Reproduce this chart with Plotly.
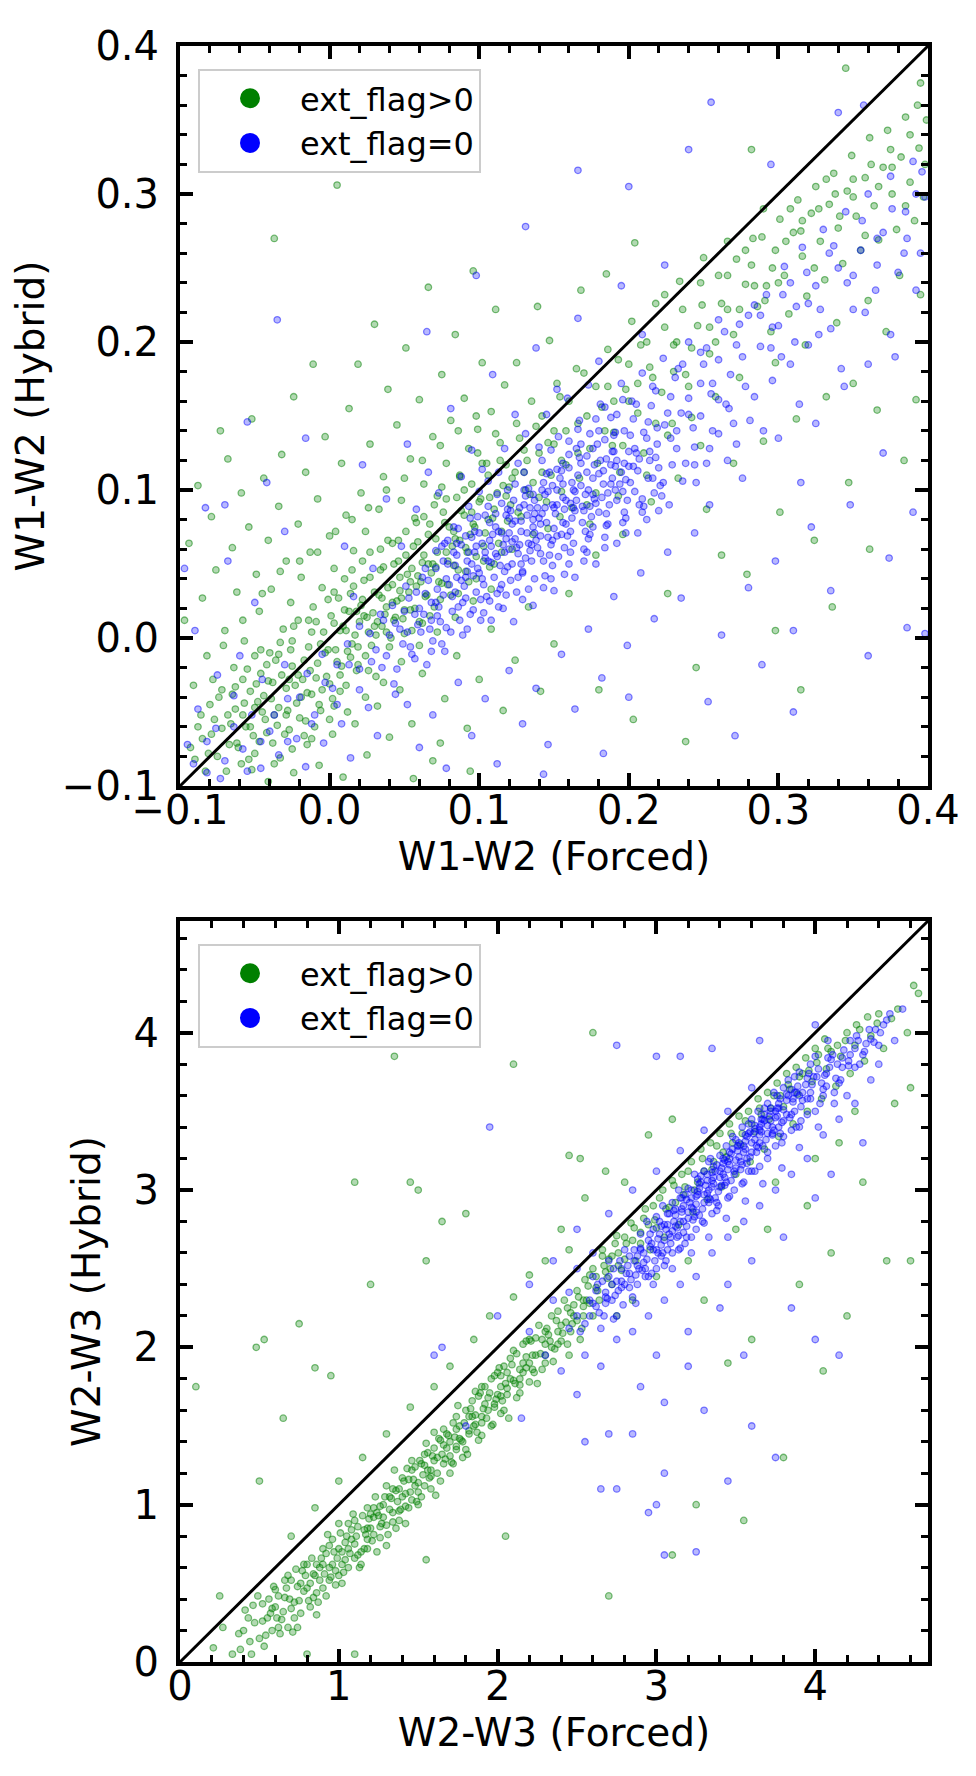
import plotly.graph_objects as go

# ---------------- DATA ----------------
# Top panel: W1-W2 (Forced) vs W1-W2 (Hybrid)
green_top = [
    (-0.072,-0.061),(-0.065,-0.038),(-0.061,-0.074),(-0.058,-0.052),(-0.055,-0.021),(-0.051,-0.066),(-0.048,-0.043),
    (-0.046,-0.008),(-0.043,-0.055),(-0.041,-0.029),(-0.038,-0.071),(-0.036,-0.015),(-0.034,-0.047),(-0.031,0.006),
    (-0.029,-0.034),(-0.027,-0.062),(-0.025,-0.019),(-0.022,-0.044),(-0.021,0.012),(-0.018,-0.028),(-0.016,-0.056),
    (-0.014,-0.006),(-0.012,-0.038),(-0.011,0.021),(-0.008,-0.017),(-0.006,-0.049),(-0.004,0.004),(-0.002,-0.026),
    (0.001,0.015),(0.002,-0.041),(0.004,-0.008),(0.006,0.027),(0.008,-0.019),(0.009,0.008),(0.011,-0.032),(0.013,0.018),
    (0.015,-0.004),(0.016,0.035),(0.018,-0.022),(0.020,0.011),(0.022,0.026),(0.024,-0.012),(0.026,0.004),(0.027,0.041),
    (0.029,0.017),(0.031,-0.026),(0.033,0.029),(0.035,0.008),(0.036,0.048),(0.038,0.021),(0.040,-0.006),(0.042,0.036),
    (0.044,0.014),(0.046,0.052),(0.048,0.027),(0.050,0.003),(0.052,0.043),(0.054,0.019),(0.056,0.062),(0.058,0.035),
    (0.060,0.011),(0.062,0.051),(0.064,0.028),(0.066,0.070),(0.068,0.044),(0.070,0.021),(0.072,0.058),(0.075,0.037),
    (0.077,0.078),(0.079,0.052),(0.081,0.029),(0.084,0.067),(0.086,0.046),(0.088,0.086),(0.091,0.061),(0.093,0.038),
    (0.096,0.077),(0.098,0.055),(0.101,0.094),(0.104,0.071),(0.107,0.048),(0.110,0.087),(0.113,0.064),(0.116,0.103),
    (0.119,0.079),
    (-0.062,-0.071),(-0.057,-0.044),(-0.053,-0.060),(-0.049,-0.031),(-0.045,-0.050),(-0.042,-0.018),(-0.039,-0.041),
    (-0.035,-0.059),(-0.032,-0.025),(-0.028,-0.049),(-0.026,-0.008),(-0.023,-0.032),(-0.020,-0.054),(-0.017,-0.015),
    (-0.015,-0.037),(-0.012,0.004),(-0.009,-0.027),(-0.007,-0.045),(-0.003,-0.010),(0.000,-0.031),(0.003,0.010),
    (0.005,-0.016),(0.007,-0.036),(0.010,0.019),(0.012,-0.009),(0.014,0.030),(0.017,0.002),(0.019,-0.018),(0.021,0.022),
    (0.023,0.039),(0.025,0.014),(0.028,-0.005),(0.030,0.031),(0.032,0.011),(0.034,0.046),(0.037,0.016),(0.039,0.034),
    (0.041,0.000),(0.043,0.050),(0.045,0.025),(0.047,0.041),(0.049,0.013),(0.051,0.056),(0.053,0.031),(0.055,0.047),
    (0.057,0.020),(0.059,0.065),(0.061,0.038),(0.063,0.056),(0.065,0.029),(0.067,0.077),(0.069,0.050),(0.071,0.067),
    (0.073,0.038),(0.076,0.085),(0.078,0.058),(0.080,0.075),(0.083,0.049),(0.085,0.095),(0.087,0.066),(0.090,0.083),
    (0.092,0.058),(0.095,0.104),(0.097,0.075),(0.100,0.092),(0.103,0.062),(0.106,0.110),(0.109,0.081),(0.112,0.098),
    (0.115,0.072),(0.118,0.117),(0.121,0.090),(0.124,0.112),(0.128,0.082),(0.132,0.120),(0.136,0.105),(0.140,0.125),
    (0.145,0.092),(0.150,0.140),(0.155,0.120),
    (-0.088,-0.060),(-0.083,-0.090),(-0.079,-0.065),(-0.074,-0.040),(-0.069,-0.090),(-0.066,-0.058),(-0.063,-0.033),
    (-0.059,-0.085),(-0.056,-0.060),(-0.053,-0.036),(-0.050,-0.012),(-0.047,-0.070),(-0.044,-0.039),(-0.040,-0.010),
    (-0.037,-0.052),(-0.033,-0.003),(-0.030,-0.065),(-0.027,-0.028),(-0.024,0.008),(-0.019,-0.040),(-0.014,0.012),
    (-0.010,-0.060),(-0.006,-0.004),(-0.001,0.026),(0.003,-0.046),(0.007,0.005),(0.010,0.040),(0.014,-0.013),
    (0.018,0.018),(0.022,0.052),(0.026,-0.022),(0.030,0.008),(0.034,0.060),(0.038,0.004),(0.042,0.024),(0.046,0.066),
    (0.050,0.019),(0.054,0.038),(0.058,0.078),(0.062,0.010),(0.066,0.050),(0.070,0.090),(0.074,0.026),(0.078,0.094),
    (0.082,0.062),(0.086,0.030),(0.090,0.100),(0.094,0.070),(0.098,0.040),(0.102,0.118),(0.106,0.080),(0.110,0.050),
    (0.114,0.120),(0.118,0.096),(0.122,0.060),(0.127,0.135),(0.131,0.100),(0.136,0.070),(0.142,0.150),(0.148,0.110),
    (0.154,0.082),(0.160,0.160),(0.166,0.125),(0.172,0.090),(0.178,0.170),(0.184,0.140),(0.190,0.160),(0.196,0.130),
    (0.200,0.185),(0.206,0.172),(0.212,0.200),(0.218,0.145),(0.224,0.210),(0.230,0.180),(0.236,0.222),(0.242,0.196),
    (0.248,0.240),(0.254,0.210),(0.260,0.245),(0.266,0.222),(0.272,0.256),(0.278,0.262),(0.284,0.238),(0.290,0.290),
    (0.296,0.250),(0.305,0.268),(0.315,0.275),(0.327,0.290),(0.338,0.300),(0.350,0.310),(0.362,0.320),(0.375,0.330),
    (0.388,0.340),(0.399,0.350),
    (-0.093,-0.074),(-0.086,-0.052),(-0.081,-0.078),(-0.077,-0.055),(-0.072,-0.035),(-0.067,-0.072),(-0.063,-0.048),
    (-0.058,-0.028),(-0.054,-0.082),(-0.050,-0.047),(-0.046,-0.024),(-0.042,-0.064),(-0.038,-0.030),(-0.034,-0.011),
    (-0.029,-0.052),(-0.025,-0.002),(-0.021,-0.025),(-0.017,-0.066),(-0.013,-0.022),(-0.009,0.011),(-0.005,-0.035),
    (-0.001,-0.008),(0.003,0.031),(0.007,-0.025),(0.011,0.005),(0.015,0.046),(0.019,-0.006),(0.023,0.015),(0.027,0.058),
    (0.031,0.002),(0.035,0.027),(0.039,0.066),(0.043,0.012),(0.047,0.032),(0.051,0.072),(0.055,0.005),(0.059,0.042),
    (0.063,0.082),(0.067,0.015),(0.071,0.048),(0.075,0.102),(0.079,0.036),(0.083,0.072),(0.087,0.110),(0.091,0.045),
    (0.095,0.085),(0.099,0.125),(0.103,0.052),(0.107,0.095),(0.111,0.138),(0.115,0.058),(0.120,0.102),(0.125,0.145),
    (0.130,0.112),(0.135,0.160),(0.140,0.095),(0.146,0.132),(0.152,0.172),(0.158,0.140),(0.165,0.182),(0.172,0.150),
    (0.179,0.118),(0.186,0.170),(0.193,0.188),(0.200,0.160),(0.208,0.198),(0.216,0.176),(0.224,0.232),(0.232,0.200),
    (0.240,0.170),(0.249,0.225),(0.258,0.200),(0.266,0.245),(0.274,0.222),(0.283,0.270),(0.291,0.228),(0.300,0.240),
    (0.308,0.290),(0.316,0.282),(0.324,0.250),(0.332,0.310),(0.341,0.285),(0.350,0.298),(0.358,0.272),(0.367,0.305),
    (0.376,0.318),(0.385,0.292),(0.393,0.360),(0.398,0.320),
    (-0.075,-0.080),(-0.068,-0.052),(-0.080,-0.045),(-0.085,-0.068),(-0.090,-0.082),(-0.064,-0.020),(-0.071,-0.005),
    (-0.078,-0.028),(-0.058,0.012),(-0.045,0.030),(-0.033,0.045),(-0.020,0.052),(-0.008,0.058),(0.004,0.072),
    (0.015,0.080),(0.026,0.088),(0.038,0.100),(0.050,0.108),(0.062,0.120),(0.074,0.130),(0.086,0.140),(0.098,0.150),
    (-0.050,-0.078),(-0.037,-0.085),(-0.025,-0.075),(-0.012,-0.068),(0.000,-0.055),(0.012,-0.050),(0.024,-0.040),
    (0.036,-0.030),(0.048,-0.016),(0.060,-0.005),(0.072,0.004),(0.084,0.014),(0.096,0.025),(0.108,0.033),
    (-0.097,0.012),(-0.094,0.064),(-0.091,-0.032),(-0.088,0.103),(-0.085,0.027),(-0.082,-0.012),(-0.079,0.082),
    (-0.076,0.046),(-0.073,0.140),(-0.070,0.005),(-0.068,0.121),(-0.065,0.061),(-0.062,0.031),(-0.059,0.098),
    (-0.057,-0.002),(-0.054,0.075),(-0.052,0.148),(-0.049,0.043),(-0.047,0.018),(-0.044,0.108),(-0.041,0.066),
    (-0.039,0.033),(-0.037,0.270),(-0.034,0.089),(-0.032,0.124),(-0.029,0.052),(-0.026,0.024),(-0.024,0.163),
    (-0.021,0.077),(-0.019,0.041),(-0.016,0.112),(-0.013,0.058),(-0.011,0.185),(-0.008,0.094),(-0.005,0.034),
    (-0.003,0.136),(0.000,0.069),(0.003,0.047),(0.005,0.306),(0.008,0.118),(0.011,0.083),(0.013,0.155),(0.016,0.059),
    (0.019,0.185),(0.021,0.098),(0.024,0.072),(0.027,0.131),(0.030,0.212),(0.033,0.087),(0.036,0.109),(0.039,0.168),
    (0.042,0.064),(0.045,0.144),(0.048,0.093),(0.051,0.196),(0.054,0.121),(0.057,0.081),(0.060,0.161),(0.063,0.104),
    (0.066,0.237),(0.069,0.136),(0.072,0.096),(0.075,0.178),(0.078,0.118),(0.081,0.147),(0.084,0.205),(0.087,0.109),
    (0.090,0.162),(0.093,0.128),(0.096,0.248),(0.099,0.141),(0.102,0.186),(0.105,0.118),(0.108,0.153),(0.111,0.222),
    (0.114,0.132),(0.117,0.171),
    (-0.052,-0.089),(-0.041,-0.097),(-0.033,-0.081),(-0.024,-0.091),(-0.015,-0.072),(-0.007,-0.086),(0.002,-0.065),
    (0.009,-0.094),(0.017,-0.058),(0.025,-0.079),(0.032,-0.046),(0.040,-0.067),(0.047,-0.035),(0.055,-0.058),
    (0.062,-0.024),(0.069,-0.083),(0.077,-0.041),(0.085,-0.012),(0.092,-0.061),(0.100,-0.028),(0.108,0.006),
    (0.116,-0.049),(0.124,-0.015),(0.133,0.021),(0.141,-0.036),(0.150,-0.004),(0.056,-0.095),(0.074,-0.071),(0.094,-0.090),
    (0.122,0.108),(0.126,0.085),(0.130,0.127),(0.134,0.097),(0.138,0.143),(0.142,0.112),(0.146,0.074),(0.150,0.131),
    (0.154,0.163),(0.158,0.117),(0.162,0.088),(0.166,0.145),(0.170,0.179),(0.174,0.128),(0.178,0.098),(0.182,0.156),
    (0.186,0.195),(0.190,0.139),(0.194,0.112),(0.198,0.168),(0.202,0.214),(0.206,0.152),(0.210,0.125),(0.214,0.183),
    (0.218,0.226),(0.222,0.166),(0.226,0.137),(0.230,0.198),(0.234,0.241),(0.238,0.178),(0.242,0.149),(0.246,0.211),
    (0.250,0.257),(0.254,0.192),(0.258,0.163),(0.262,0.226),(0.266,0.268),(0.270,0.205),(0.274,0.176),(0.278,0.239),
    (0.147,0.201),(0.168,0.235),(0.185,0.246),(0.204,0.267),(0.125,0.186),(0.139,0.224),(0.160,0.030),(0.178,0.056),
    (0.196,0.070),(0.215,0.092),(0.233,0.108),(0.252,0.087),(0.270,0.118),(0.226,0.030),(0.245,-0.020),(0.262,0.056),
    (0.180,-0.035),(0.203,-0.055),(0.238,-0.070),(0.212,0.110),(0.189,0.130),(0.167,0.108),(0.229,0.145),(0.248,0.130),
    (0.193,0.096),(0.155,0.099),(0.174,0.077),
    (0.282,0.252),(0.286,0.224),(0.289,0.271),(0.292,0.238),(0.295,0.207),(0.298,0.262),(0.301,0.283),(0.304,0.245),
    (0.307,0.219),(0.310,0.274),(0.313,0.296),(0.316,0.258),(0.319,0.231),(0.322,0.287),(0.325,0.305),(0.328,0.268),
    (0.331,0.242),(0.334,0.293),(0.337,0.314),(0.340,0.277),(0.343,0.253),(0.346,0.302),(0.349,0.326),(0.352,0.285),
    (0.355,0.262),(0.358,0.311),(0.361,0.338),(0.364,0.292),(0.367,0.269),(0.370,0.318),(0.373,0.343),(0.376,0.300),
    (0.379,0.276),(0.382,0.325),(0.385,0.352),(0.388,0.308),(0.391,0.282),(0.394,0.331),(0.397,0.298),(0.298,0.186),
    (0.318,0.198),(0.339,0.213),(0.360,0.228),(0.381,0.245),(0.395,0.232),(0.372,0.207),(0.350,0.172),(0.332,0.163),
    (0.312,0.148),(0.290,0.133),(0.366,0.154),(0.392,0.161),(0.384,0.120),(0.301,0.085),(0.324,0.066),(0.347,0.105),
    (0.361,0.060),(0.336,0.021),(0.279,0.043),(0.298,0.005),(0.315,-0.035),(0.345,0.385),(0.395,0.375),(0.282,0.330),
]

blue_top = [
    (0.040,0.002),(0.045,-0.021),(0.050,0.018),(0.054,-0.006),(0.058,0.031),(0.061,0.004),(0.065,-0.018),(0.068,0.024),
    (0.071,0.047),(0.074,0.011),(0.077,-0.009),(0.080,0.036),(0.083,0.058),(0.086,0.021),(0.089,0.002),(0.092,0.045),
    (0.095,0.068),(0.098,0.031),(0.101,0.012),(0.104,0.054),(0.107,0.078),(0.110,0.041),(0.113,0.021),(0.116,0.063),
    (0.119,0.087),(0.122,0.050),(0.125,0.031),(0.128,0.072),(0.131,0.096),(0.134,0.059),(0.137,0.040),(0.140,0.081),
    (0.143,0.105),(0.146,0.068),(0.149,0.049),(0.152,0.090),(0.155,0.113),(0.158,0.077),(0.161,0.058),(0.164,0.099),
    (0.167,0.122),(0.170,0.086),(0.173,0.067),(0.176,0.108),(0.179,0.131),(0.182,0.095),(0.185,0.076),(0.188,0.117),
    (0.191,0.139),(0.194,0.104),(0.197,0.085),(0.200,0.126),(0.203,0.148),(0.206,0.113),(0.209,0.094),(0.212,0.135),
    (0.215,0.157),(0.218,0.122),(0.221,0.103),(0.224,0.144),
    (0.072,0.033),(0.079,0.050),(0.085,0.041),(0.091,0.027),(0.097,0.058),(0.103,0.036),(0.108,0.062),(0.114,0.049),
    (0.120,0.071),(0.126,0.057),(0.132,0.083),(0.138,0.066),(0.144,0.088),(0.150,0.074),(0.156,0.095),(0.162,0.081),
    (0.168,0.103),(0.174,0.089),(0.180,0.111),(0.186,0.098),(0.192,0.120),(0.198,0.107),(0.204,0.128),(0.088,0.063),
    (0.094,0.081),(0.100,0.071),(0.106,0.089),(0.112,0.097),(0.118,0.083),(0.124,0.104),(0.130,0.112),(0.136,0.097),
    (0.142,0.120),(0.148,0.127),(0.154,0.108),(0.160,0.133),(0.166,0.141),(0.172,0.123),(0.178,0.148),(0.184,0.156),
    (0.190,0.137),(0.196,0.161),(0.094,0.016),(0.100,0.044),(0.107,0.025),(0.115,0.036),(0.123,0.011),(0.129,0.044),
    (0.136,0.022),(0.143,0.052),(0.150,0.032),(0.157,0.061),(0.164,0.041),(0.171,0.072),(0.178,0.050),(0.185,0.084),
    (0.192,0.064),(0.199,0.093),(0.206,0.071),(0.213,0.108),(0.220,0.086),
    (0.031,-0.008),(0.036,0.012),(0.043,-0.031),(0.047,0.006),(0.053,0.027),(0.057,-0.014),(0.063,0.016),(0.066,0.039),
    (0.069,-0.002),(0.073,0.021),(0.076,0.052),(0.078,0.007),(0.082,0.028),(0.084,0.049),(0.087,0.012),(0.090,0.035),
    (0.093,0.058),(0.096,0.019),(0.099,0.047),(0.102,0.064),(0.105,0.028),(0.108,0.051),(0.111,0.075),(0.114,0.033),
    (0.117,0.058),(0.120,0.081),(0.121,0.039),(0.124,0.067),(0.127,0.088),(0.129,0.045),(0.132,0.071),(0.135,0.052),
    (0.137,0.093),(0.139,0.061),(0.141,0.077),(0.144,0.042),(0.146,0.099),(0.148,0.063),(0.151,0.084),(0.153,0.055),
    (0.156,0.104),(0.159,0.069),(0.161,0.091),(0.163,0.064),(0.166,0.110),(0.169,0.078),(0.171,0.097),(0.174,0.070),
    (0.177,0.117),(0.180,0.085),(0.183,0.104),(0.186,0.077),(0.189,0.126),(0.192,0.093),(0.195,0.112),(0.198,0.081),
    (0.201,0.137),(0.204,0.099),(0.207,0.121),(0.210,0.089),(0.213,0.146),(0.216,0.108),(0.219,0.131),(0.222,0.096),
    (0.226,0.152),(0.229,0.117),(0.232,0.140),(0.236,0.106),(0.240,0.162),(0.244,0.129),(0.248,0.150),(0.252,0.118),
    (0.256,0.172),(0.260,0.138),(0.265,0.158),(0.270,0.145),
    (0.062,0.041),(0.067,0.006),(0.071,0.059),(0.075,-0.004),(0.079,0.066),(0.082,0.018),(0.086,0.074),(0.089,0.024),
    (0.093,0.089),(0.096,0.042),(0.100,0.099),(0.103,0.017),(0.106,0.106),(0.109,0.070),(0.113,0.112),(0.116,0.020),
    (0.119,0.100),(0.122,0.065),(0.126,0.118),(0.129,0.026),(0.133,0.101),(0.136,0.075),(0.140,0.129),(0.143,0.034),
    (0.147,0.112),(0.150,0.088),(0.153,0.136),(0.157,0.043),(0.160,0.124),(0.163,0.100),(0.167,0.147),(0.170,0.052),
    (0.174,0.138),(0.177,0.094),(0.181,0.158),(0.184,0.061),(0.188,0.149),(0.191,0.116),(0.195,0.172),(0.198,0.071),
    (0.202,0.160),(0.205,0.125),(0.209,0.179),(0.212,0.080),(0.216,0.170),(0.219,0.142),(0.223,0.189),(0.227,0.090),
    (0.231,0.176),(0.235,0.152),(0.240,0.200),(0.245,0.105),(0.250,0.185),(0.255,0.165),(0.260,0.215),(0.266,0.120),
    (0.272,0.198),(0.278,0.170),(0.284,0.225),(0.290,0.140),(0.296,0.210),(0.302,0.190),(0.308,0.240),(0.314,0.158),
    (0.320,0.226),(0.327,0.205),(0.334,0.260),(0.342,0.182),(0.350,0.245),(0.358,0.220),(0.366,0.270),(0.375,0.205),
    (0.384,0.260),(0.392,0.300),
    (0.051,0.035),(0.055,-0.011),(0.059,0.009),(0.064,0.047),(0.068,-0.009),(0.072,0.015),(0.077,0.064),(0.081,0.004),
    (0.085,0.056),(0.088,0.039),(0.092,0.006),(0.097,0.072),(0.101,0.026),(0.104,0.083),(0.108,0.012),(0.111,0.057),
    (0.115,0.091),(0.118,0.029),(0.122,0.077),(0.126,0.041),(0.130,0.100),(0.133,0.033),(0.137,0.084),(0.141,0.057),
    (0.145,0.111),(0.148,0.040),(0.152,0.069),(0.156,0.118),(0.160,0.050),(0.164,0.086),(0.168,0.131),(0.172,0.058),
    (0.176,0.097),(0.180,0.140),(0.184,0.068),(0.188,0.104),(0.192,0.151),(0.196,0.078),(0.200,0.116),(0.205,0.158),
    (0.209,0.085),(0.214,0.120),(0.218,0.167),(0.223,0.105),(0.228,0.135),(0.233,0.182),(0.238,0.118),(0.243,0.142),
    (0.248,0.193),(0.254,0.128),(0.260,0.188),(0.267,0.155),(0.274,0.212),(0.281,0.147),(0.288,0.218),(0.295,0.196),
    (0.303,0.232),(0.311,0.200),(0.319,0.247),(0.328,0.222),(0.337,0.265),(0.346,0.240),(0.356,0.282),(0.366,0.252),
    (0.376,0.290),(0.386,0.270),(0.396,0.315),
    (0.113,0.072),(0.121,0.086),(0.128,0.050),(0.135,0.063),(0.142,0.084),(0.149,0.103),(0.155,0.070),(0.162,0.105),
    (0.169,0.089),(0.176,0.075),(0.183,0.113),(0.190,0.126),(0.196,0.099),(0.203,0.116),(0.210,0.139),(0.217,0.098),
    (0.098,0.062),(0.091,0.041),(0.085,0.064),(0.078,0.040),(0.071,0.024),(0.064,0.030),(0.057,0.016),(0.049,-0.004),
    (0.042,0.022),(0.035,-0.020),(0.027,0.003),(0.020,-0.035),(0.013,-0.018),(0.005,-0.045),(-0.003,-0.030),
    (-0.012,-0.058),(-0.020,-0.040),(-0.028,-0.070),(-0.037,-0.052),(-0.046,-0.070),(-0.055,-0.090),(-0.064,-0.060),
    (-0.073,-0.095),(-0.082,-0.070),(-0.091,-0.085),
    (0.106,0.052),(0.111,0.084),(0.118,0.067),(0.124,0.079),(0.130,0.090),(0.137,0.071),(0.145,0.078),(0.152,0.114),
    (0.158,0.093),(0.165,0.128),(0.172,0.112),(0.178,0.091),(0.185,0.121),(0.191,0.100),(0.197,0.140),(0.134,0.088),
    (0.127,0.063),(0.119,0.048),(0.112,0.030),(0.102,0.040),(0.095,0.050),(0.142,0.100),(0.149,0.066),(0.161,0.072),
    (0.175,0.082),(0.187,0.090),(0.201,0.105),(0.207,0.090),(0.214,0.126),(0.220,0.115),
    (0.117,0.045),(0.125,0.061),(0.133,0.064),(0.141,0.069),(0.149,0.090),(0.157,0.087),(0.165,0.093),(0.173,0.100),
    (0.181,0.120),(0.189,0.108),(0.197,0.118),(0.104,0.058),(0.112,0.055),(0.120,0.060),(0.128,0.079),(0.136,0.080),
    (0.144,0.097),(0.152,0.100),(0.160,0.115),(0.168,0.118),(0.176,0.128),(0.184,0.134),(0.092,0.052),(0.084,0.031),
    (0.076,0.029),(0.068,0.012),(0.060,0.020),(0.052,0.004),(0.044,0.010),(0.156,0.078),(0.163,0.088),(0.170,0.060),
    (0.147,0.056),(0.139,0.088),(0.131,0.054),(0.123,0.093),(0.115,0.071),(0.107,0.066),(0.099,0.082),(0.091,0.069),
    (0.083,0.075),(0.075,0.062),
    (-0.095,-0.072),(-0.088,-0.048),(-0.082,-0.091),(-0.076,-0.061),(-0.070,-0.083),(-0.064,-0.039),(-0.058,-0.075),
    (-0.052,-0.052),(-0.046,-0.088),(-0.040,-0.063),(-0.034,-0.079),(-0.028,-0.041),(-0.022,-0.068),(-0.016,-0.087),
    (-0.010,-0.052),(-0.004,-0.071),(0.002,-0.034),(0.008,-0.058),(0.014,-0.081),(0.020,-0.021),(0.026,-0.047),
    (0.032,-0.066),(0.038,-0.012),(0.044,-0.038),(-0.015,-0.024),(-0.005,-0.011),(0.005,-0.018),(0.012,-0.004),
    (0.020,0.008),(0.028,-0.016),(0.034,0.016),(-0.030,-0.018),(-0.045,-0.028),(-0.060,-0.012),(-0.075,-0.025),
    (-0.090,0.005),(-0.068,0.052),(-0.083,0.088),(-0.055,0.146),(-0.042,0.105),(-0.030,0.072),(-0.016,0.135),
    (-0.050,0.024),(-0.097,0.047),(-0.035,0.215),(0.010,0.062),(0.022,0.117),(-0.070,0.090),
    (0.052,-0.045),(0.060,-0.074),(0.069,-0.052),(0.078,-0.088),(0.086,-0.030),(0.095,-0.066),(0.104,-0.041),
    (0.112,-0.085),(0.120,-0.022),(0.129,-0.058),(0.138,-0.034),(0.146,-0.072),(0.155,-0.011),(0.164,-0.048),
    (0.173,0.006),(0.182,-0.027),(0.190,0.028),(0.199,-0.005),(0.208,0.044),(0.217,0.013),(0.226,0.058),(0.235,0.027),
    (0.244,0.071),(0.253,-0.043),(0.262,0.002),(0.271,-0.066),(0.280,0.034),(0.289,-0.018),(0.298,0.052),(0.310,0.005),
    (0.322,0.075),(0.335,0.032),(0.348,0.090),(0.360,-0.012),(0.374,0.054),(0.386,0.007),(0.398,0.003),(0.200,-0.040),
    (0.183,-0.078),(0.143,-0.092),(0.310,-0.050),
    (0.228,0.163),(0.232,0.128),(0.236,0.185),(0.240,0.151),(0.244,0.117),(0.248,0.172),(0.252,0.196),(0.256,0.140),
    (0.260,0.161),(0.264,0.207),(0.268,0.178),(0.272,0.131),(0.276,0.190),(0.280,0.218),(0.284,0.163),(0.288,0.197),
    (0.292,0.232),(0.296,0.174),(0.300,0.211),(0.304,0.251),(0.308,0.185),(0.312,0.224),(0.316,0.264),(0.320,0.198),
    (0.325,0.238),(0.330,0.276),(0.335,0.209),(0.340,0.250),(0.345,0.288),(0.350,0.222),(0.355,0.262),(0.360,0.300),
    (0.365,0.235),(0.370,0.274),(0.375,0.312),(0.380,0.247),(0.385,0.288),(0.390,0.322),(0.395,0.260),(0.398,0.298),
    (0.344,0.170),(0.360,0.185),(0.378,0.190),(0.392,0.235),(0.325,0.145),(0.300,0.135),(0.276,0.108),(0.254,0.090),
    (0.315,0.105),(0.370,0.125),(0.390,0.085),(0.340,0.355),(0.357,0.360),(0.295,0.320),(0.255,0.362),(0.166,0.316),
    (0.200,0.305),(0.240,0.330),
    (0.038,0.094),(0.052,0.131),(0.066,0.112),(0.081,0.155),(0.095,0.127),(0.109,0.178),(0.124,0.151),(0.138,0.196),
    (0.152,0.168),(0.166,0.216),(0.180,0.187),(0.195,0.238),(0.209,0.205),(0.224,0.252),(0.065,0.207),(0.098,0.245),
    (0.131,0.278),(0.058,0.087),(0.073,0.098),(0.088,0.109),(0.102,0.114),(0.117,0.128),(0.131,0.138),(0.145,0.151),
    (0.159,0.162),(0.173,0.171),(0.029,0.047),(0.016,0.028),(0.048,0.062),
]

# Bottom panel: W2-W3 (Forced) vs W2-W3 (Hybrid)
green_bot = [
    (0.21,0.09),(0.27,0.22),(0.33,0.05),(0.37,0.18),(0.41,0.33),(0.44,0.13),(0.47,0.25),(0.52,0.37),(0.54,0.17),
    (0.57,0.31),(0.59,0.48),(0.61,0.28),(0.63,0.18),(0.67,0.47),(0.69,0.40),(0.71,0.19),(0.73,0.59),(0.75,0.39),
    (0.79,0.55),(0.81,0.39),(0.83,0.66),(0.85,0.55),(0.87,0.38),(0.89,0.66),(0.91,0.56),(0.93,0.81),(0.95,0.54),
    (0.97,0.70),(0.99,0.66),(1.01,0.82),(1.03,0.57),(1.05,0.80),(1.07,0.69),(1.09,0.94),(1.11,0.80),(1.13,0.60),
    (1.15,0.93),(1.17,0.81),(1.19,0.91),(1.21,0.77),(1.23,1.05),(1.25,0.93),(1.27,0.88),(1.29,1.05),(1.31,0.81),
    (1.33,1.04),(1.35,1.22),(1.37,1.02),(1.39,0.97),(1.41,1.15),(1.43,1.23),(1.45,1.08),(1.47,1.16),(1.49,1.02),
    (1.51,1.28),(1.53,1.19),(1.55,1.39),(1.57,1.17),(1.59,1.31),(1.61,1.06),(1.63,1.42),(1.65,1.32),(1.67,1.29),
    (1.69,1.44),(1.71,1.27),(1.73,1.43),(1.75,1.63),(1.77,1.41),(1.79,1.52),(1.81,1.32),(1.83,1.61),(1.85,1.50),
    (1.87,1.46),(1.89,1.71),(1.91,1.61),(1.93,1.55),(1.95,1.71),(1.97,1.51),(1.99,1.67),(2.01,1.87),(2.03,1.66),
    (2.05,1.77),(2.07,1.55),(2.09,1.89),(2.11,1.77),(2.14,1.71),(2.16,1.90),(2.18,1.87),(2.21,2.04),(2.23,1.84),
    (2.25,1.77),(2.28,2.05),(2.30,1.95),(2.33,2.04),(2.35,1.91),(2.38,2.23),(2.40,2.04),(2.43,2.16),(2.45,1.95),
    (2.48,2.27),(2.50,2.17),(2.53,2.12),(2.55,2.43),(2.58,2.28),
    (0.43,0.28),(0.49,0.42),(0.53,0.10),(0.58,0.34),(0.62,0.22),(0.66,0.52),(0.70,0.34),(0.74,0.22),(0.78,0.62),
    (0.82,0.50),(0.86,0.30),(0.90,0.62),(0.94,0.74),(0.98,0.58),(1.02,0.50),(1.06,0.72),(1.10,0.90),(1.14,0.62),
    (1.18,0.78),(1.22,0.98),(1.26,0.86),(1.30,0.74),(1.34,1.10),(1.38,0.90),(1.42,0.88),(1.46,1.28),(1.50,1.00),
    (1.54,1.32),(1.58,1.10),(1.62,1.30),(1.66,1.48),(1.70,1.20),(1.74,1.56),(1.78,1.30),(1.82,1.56),(1.86,1.72),
    (1.90,1.44),(1.94,1.68),(1.98,1.82),(2.02,1.58),(2.06,1.84),(2.10,1.98),(2.14,1.76),(2.18,2.04),(2.22,1.86),
    (2.26,2.14),(2.30,1.90),(2.34,2.20),(2.38,2.02),(2.42,2.30),(2.46,2.22),(2.50,2.36),(2.54,2.30),(2.58,2.46),
    (2.62,2.38),(2.66,2.58),(2.70,2.56),(2.74,2.66),(2.80,2.70),(2.86,2.76),(2.92,2.82),(2.98,2.90),(3.04,3.00),
    (3.10,3.06),(3.16,3.10),(3.22,3.18),(3.28,3.26),(3.34,3.30),(3.40,3.36),(3.46,3.42),(3.52,3.47),(3.58,3.50),
    (3.64,3.58),(3.70,3.62),(3.76,3.68),(3.82,3.74),(3.88,3.78),(3.94,3.84),(4.00,3.90),(4.06,3.96),
    (0.40,0.20),(0.46,0.36),(0.50,0.15),(0.55,0.28),(0.60,0.46),(0.65,0.32),(0.68,0.55),(0.72,0.28),(0.76,0.50),
    (0.80,0.62),(0.84,0.41),(0.88,0.52),(0.92,0.42),(0.96,0.78),(1.00,0.55),(1.04,0.65),(1.08,0.84),(1.12,0.68),
    (1.16,0.72),(1.20,0.85),(1.24,0.70),(1.28,0.92),(1.32,0.97),(1.36,0.85),(1.40,1.05),(1.44,0.98),(1.48,1.12),
    (1.52,1.05),(1.56,1.22),(1.60,1.28),(1.64,1.15),(1.68,1.36),(1.72,1.26),(1.76,1.42),(1.80,1.35),(1.84,1.56),
    (1.88,1.41),(1.92,1.64),(1.96,1.50),(2.00,1.70),(2.04,1.60),(2.08,1.80),(2.12,1.68),(2.16,1.84),(2.20,1.78),
    (2.24,1.95),(2.28,1.86),(2.32,2.08),(2.36,1.99),(2.40,2.14),(2.44,2.02),(2.48,2.20),(2.52,2.05),(2.56,2.30),
    (2.60,2.20),(2.64,2.30),(2.68,2.48),(2.72,2.40),(2.76,2.52),(0.90,0.72),(1.18,0.98),(1.46,1.22),(1.74,1.48),
    (2.02,1.82),(2.30,2.10),(1.00,0.88),(1.30,1.12),(1.60,1.46),(1.90,1.75),(2.20,2.05),
    (0.62,0.42),(0.70,0.52),(0.78,0.45),(0.86,0.62),(0.94,0.60),(1.02,0.70),(1.10,0.75),(1.18,0.85),(1.26,0.99),
    (1.34,0.95),(1.42,1.07),(1.50,1.14),(1.58,1.22),(1.66,1.38),(1.74,1.35),(1.82,1.45),(1.90,1.52),(1.98,1.62),
    (2.06,1.70),(2.14,1.80),(2.22,1.95),(2.30,2.02),(2.38,2.10),(2.46,2.10),(2.54,2.20),(1.06,0.88),(1.22,0.92),
    (1.38,1.10),(1.54,1.25),(1.70,1.40),(1.86,1.57),(2.02,1.75),(2.18,1.94),
    (0.52,0.26),(0.56,0.40),(0.58,0.20),(0.60,0.35),(0.64,0.27),(0.66,0.41),(0.68,0.22),(0.72,0.38),(0.74,0.48),
    (0.76,0.31),(0.77,0.58),(0.80,0.47),(0.82,0.35),(0.84,0.56),(0.86,0.44),(0.88,0.60),(0.90,0.47),(0.92,0.69),
    (0.94,0.52),(0.96,0.62),(0.98,0.49),(1.00,0.72),(1.02,0.62),(1.04,0.76),(1.06,0.60),(1.08,0.78),(1.10,0.66),
    (1.12,0.86),(1.14,0.70),(1.16,0.84),(1.18,0.72),(1.20,0.94),(1.22,0.81),(1.24,0.95),(1.26,0.79),(1.28,1.00),
    (1.30,0.87),(1.32,1.05),(1.34,0.89),(1.36,1.09),(1.38,0.96),(1.40,1.17),(1.42,0.99),(1.44,1.16),(1.46,1.03),
    (1.48,1.24),(1.50,1.08),(1.52,1.26),(1.54,1.12),(1.56,1.33),(1.58,1.18),(1.60,1.36),(1.62,1.20),(1.64,1.41),
    (1.66,1.26),(1.68,1.45),(1.70,1.31),(1.72,1.52),(1.74,1.37),(1.76,1.50),(1.78,1.40),(1.80,1.60),(1.82,1.47),
    (1.84,1.66),(1.86,1.51),(1.88,1.69),(1.90,1.56),(1.92,1.75),(1.94,1.60),(1.96,1.80),(1.98,1.64),(2.00,1.84),
    (2.02,1.69),(2.04,1.88),(2.06,1.74),(2.08,1.93),(2.10,1.79),(2.12,1.96),(2.14,1.86),(2.16,2.02),(2.20,1.90),
    (2.24,2.06),(2.27,1.96),(2.31,2.12),(2.34,2.00),(2.37,2.17),(2.41,2.09),(2.44,2.25),(2.47,2.15),(2.51,2.32),
    (2.54,2.26),(2.57,2.39),
    (2.62,2.45),(2.67,2.52),(2.71,2.50),(2.76,2.60),(2.80,2.56),(2.85,2.68),(2.90,2.66),(2.95,2.78),(3.00,2.76),
    (3.06,2.88),(3.12,2.92),(3.18,3.02),(3.24,3.00),(3.30,3.12),(3.36,3.18),(3.42,3.24),(3.48,3.30),(3.54,3.36),
    (3.60,3.42),(3.66,3.48),(3.72,3.52),(3.78,3.60),(3.84,3.64),(3.90,3.72),(3.96,3.76),(4.02,3.86),(4.08,3.90),
    (4.14,3.92),(4.20,4.00),(4.26,4.05),(4.33,4.10),(4.40,4.12),
    (2.60,2.50),(2.63,2.36),(2.66,2.62),(2.69,2.44),(2.72,2.58),(2.75,2.71),(2.78,2.49),(2.81,2.66),(2.84,2.79),
    (2.87,2.55),(2.90,2.73),(2.93,2.88),(2.96,2.62),(2.99,2.81),(3.02,2.95),(3.05,2.70),(3.08,2.89),(3.11,3.03),
    (3.14,2.78),(3.17,2.97),(3.20,3.12),(3.23,2.86),(3.26,3.05),(3.29,3.20),(3.32,2.94),(3.35,3.13),(3.38,3.28),
    (3.41,3.02),(3.44,3.21),(3.47,3.36),(3.50,3.10),(3.53,3.29),(3.56,3.44),(3.59,3.18),(3.62,3.37),(3.65,3.52),
    (3.68,3.26),(3.71,3.45),(3.74,3.60),(3.77,3.34),(3.80,3.53),(3.83,3.67),(3.86,3.42),(3.89,3.61),(3.92,3.74),
    (3.95,3.50),(3.98,3.69),(4.01,3.81),(4.04,3.58),(4.07,3.77),(4.10,3.88),(4.13,3.66),(4.16,3.85),(4.19,3.95),
    (4.22,3.74),(4.25,3.92),(4.28,4.02),(4.31,3.82),(4.35,3.98),(4.39,4.06),(4.43,3.90),(4.48,4.09),(4.52,4.15),
    (4.58,4.00),(4.62,4.30),
    (2.45,2.62),(2.55,2.95),(2.68,3.12),(2.80,3.05),(2.95,3.35),(3.10,3.45),(2.40,2.75),(2.30,2.55),(2.20,2.46),
    (2.10,2.32),(1.95,2.20),(1.85,2.05),(1.70,1.88),(1.60,1.75),(1.45,1.62),(1.30,1.45),(1.15,1.30),(1.00,1.15),
    (0.85,0.98),(0.70,0.80),
    (0.10,1.75),(0.25,0.42),(0.50,1.15),(0.48,2.00),(0.53,2.05),(0.65,1.55),(0.85,1.87),(0.95,1.82),(0.75,2.15),
    (1.10,3.05),(1.45,3.05),(1.50,3.00),(1.65,2.80),(1.80,2.85),(1.55,2.55),(1.20,2.40),(2.10,3.80),(1.35,3.85),
    (2.60,4.00),(2.45,3.22),(2.52,3.20),(3.25,1.00),(3.45,1.90),(3.80,1.30),(3.55,0.90),(4.05,1.85),(4.20,2.20),
    (4.45,2.55),(4.60,2.55),(3.90,2.40),(4.10,2.60),(3.60,2.05),(3.30,2.30),(3.95,2.90),(4.30,3.05),(4.15,3.30),
    (3.70,2.75),(2.70,0.42),(3.10,0.68),(2.05,0.80),(1.10,0.05),(0.80,0.05),(0.45,0.05),(0.38,0.08),(1.55,0.65),
    (3.75,3.05),(4.25,3.50),(4.50,3.55),(4.65,4.25),(4.60,3.65),(2.85,2.30),(3.00,2.45),(3.20,2.55),(2.75,2.20),
    (3.50,2.75),(4.00,3.20),
]

blue_bot = [
    (2.45,2.12),(2.50,2.20),(2.55,2.15),(2.60,2.28),(2.64,2.22),(2.68,2.35),(2.72,2.30),(2.75,2.42),(2.78,2.38),
    (2.81,2.47),(2.84,2.43),(2.86,2.55),(2.89,2.50),(2.92,2.60),(2.94,2.56),(2.97,2.66),(3.00,2.62),(3.02,2.72),
    (3.05,2.68),(3.07,2.78),(3.10,2.74),(3.12,2.84),(3.15,2.80),(3.17,2.90),(3.20,2.86),(3.22,2.95),(3.25,2.91),
    (3.27,3.01),(3.30,2.97),(3.32,3.06),(3.35,3.02),(3.37,3.12),(3.40,3.08),(3.42,3.17),(3.45,3.13),(3.47,3.23),
    (3.50,3.19),(3.52,3.28),(3.55,3.24),(3.57,3.34),(3.60,3.30),(3.62,3.39),(3.65,3.35),(3.67,3.45),(3.70,3.41),
    (3.72,3.50),(3.75,3.46),(3.77,3.55),(3.80,3.51),(3.83,3.60),(3.86,3.56),(3.89,3.66),(3.92,3.62),(3.95,3.71),
    (3.98,3.67),(4.02,3.77),(4.06,3.73),(4.10,3.83),(4.14,3.80),(4.18,3.89),(4.22,3.86),(4.27,3.95),(4.32,3.93),
    (4.38,4.02),(4.45,4.08),
    (2.62,2.26),(2.66,2.42),(2.69,2.31),(2.73,2.50),(2.76,2.36),(2.80,2.40),(2.83,2.58),(2.87,2.46),(2.90,2.62),
    (2.93,2.45),(2.96,2.72),(3.00,2.50),(3.03,2.65),(3.07,2.85),(3.10,2.60),(3.13,2.76),(3.16,2.95),(3.19,2.70),
    (3.23,2.88),(3.26,3.07),(3.29,2.80),(3.33,3.00),(3.36,3.15),(3.39,2.90),(3.43,3.08),(3.46,3.24),(3.49,3.00),
    (3.53,3.18),(3.56,3.35),(3.60,3.12),(3.63,3.28),(3.66,3.45),(3.70,3.24),(3.73,3.36),(3.77,3.52),(3.80,3.34),
    (3.84,3.46),(3.87,3.62),(3.91,3.44),(3.95,3.58),(3.99,3.72),(4.03,3.55),(4.07,3.66),(4.11,3.86),(4.16,3.70),
    (4.21,3.82),(4.26,3.98),(4.31,3.88),(4.37,3.94),(4.43,4.05),
    (3.25,2.96),(3.35,3.06),(3.45,3.18),(3.55,3.28),(3.65,3.40),(3.75,3.50),(3.20,2.82),(3.30,2.92),(3.40,3.02),
    (3.50,3.14),(3.60,3.24),(3.70,3.36),(3.80,3.44),(3.08,2.72),(2.98,2.62),(2.88,2.52),(2.78,2.42),(2.68,2.32),
    (3.44,3.28),(3.54,3.40),(3.64,3.50),(3.74,3.62),(3.34,3.20),(3.24,3.10),(3.14,3.00),(3.04,2.90),(2.94,2.80),
    (3.87,3.72),(3.97,3.80),(4.07,3.74),
    (2.58,2.30),(2.63,2.40),(2.67,2.20),(2.70,2.45),(2.74,2.33),(2.77,2.55),(2.79,2.27),(2.83,2.47),(2.86,2.62),
    (2.88,2.40),(2.92,2.54),(2.95,2.68),(2.97,2.47),(3.01,2.60),(3.03,2.77),(3.06,2.55),(3.09,2.70),(3.11,2.87),
    (3.14,2.62),(3.17,2.80),(3.19,2.94),(3.22,2.70),(3.25,2.86),(3.27,3.04),(3.30,2.79),(3.33,2.95),(3.35,3.11),
    (3.38,2.87),(3.41,3.03),(3.43,3.19),(3.46,2.96),(3.49,3.12),(3.51,3.28),(3.54,3.04),(3.57,3.20),(3.59,3.37),
    (3.62,3.12),(3.65,3.30),(3.68,3.44),(3.70,3.20),(3.73,3.40),(3.76,3.60),(3.79,3.30),(3.82,3.48),(3.85,3.64),
    (3.88,3.40),(3.92,3.57),(3.96,3.74),(4.00,3.50),(4.04,3.68),(4.08,3.84),(4.12,3.62),(4.17,3.78),(4.22,3.95),
    (4.28,3.80),(4.34,4.02),(4.40,3.92),(4.47,4.12),
    (3.05,2.78),(3.16,2.88),(3.26,2.99),(3.36,3.04),(3.46,3.16),(3.56,3.26),(3.66,3.37),(3.76,3.47),(3.86,3.58),
    (3.12,2.77),(3.22,2.89),(3.32,2.98),(3.42,3.10),(3.52,3.21),(3.62,3.32),(3.72,3.44),(3.28,3.09),(3.48,3.34),
    (3.68,3.52),(3.18,2.66),(3.38,2.92),(3.58,3.12),(3.78,3.36),
    (2.82,2.52),(2.88,2.58),(2.91,2.49),(2.96,2.64),(2.99,2.55),(3.01,2.69),(3.04,2.60),(3.06,2.75),(3.09,2.66),
    (3.11,2.80),(3.14,2.71),(3.16,2.86),(3.19,2.77),(3.21,2.92),(3.24,2.83),(3.26,2.97),(3.29,2.88),(3.31,3.03),
    (3.34,2.94),(3.36,3.08),(3.39,2.99),(3.41,3.14),(3.44,3.05),(3.46,3.20),(3.49,3.10),(3.51,3.25),(3.54,3.16),
    (3.56,3.31),(3.59,3.21),(3.61,3.36),(3.64,3.27),(3.66,3.42),(3.69,3.32),(3.71,3.47),(3.74,3.38),(3.76,3.52),
    (3.79,3.43),(3.82,3.57),(3.85,3.48),(3.88,3.62),(3.91,3.53),(3.94,3.67),(3.97,3.58),(4.01,3.72),(4.05,3.64),
    (4.09,3.78),(4.13,3.71),(4.17,3.84),(4.21,3.79),(4.25,3.90),(4.30,3.86),(4.35,3.96),(4.41,4.00),
    (3.02,2.80),(3.12,2.88),(3.22,3.00),(3.32,3.10),(3.42,3.20),(3.52,3.30),(3.62,3.41),(3.72,3.52),(3.82,3.61),
    (3.07,2.62),(3.17,2.73),(3.27,2.84),(3.37,2.95),(3.47,3.06),(3.57,3.17),(3.67,3.28),(3.77,3.40),(3.87,3.50),
    (3.97,3.62),(2.72,2.40),(2.78,2.50),(2.68,2.28),(2.58,2.20),(2.52,2.10),(2.62,2.36),(2.73,2.18),(2.87,2.28),
    (2.98,2.40),(3.10,2.50),(3.22,2.60),(3.33,2.70),(3.44,2.82),(3.56,2.93),(3.67,3.04),(3.79,3.14),(3.90,3.27),
    (4.02,3.40),(4.12,3.55),(2.90,2.63),(3.15,2.95),(3.40,3.12),(3.65,3.38),(3.90,3.60),(3.33,3.18),(3.58,3.42),
    (3.83,3.70),(4.08,3.95),
    (2.60,2.45),(2.70,2.55),(2.80,2.62),(2.90,2.72),(3.00,2.83),(3.10,2.92),(3.20,3.01),(3.30,3.12),(3.40,3.22),
    (3.50,3.32),(3.60,3.45),(3.70,3.55),(3.80,3.65),(3.90,3.75),(4.00,3.85),(2.65,2.12),(2.75,2.20),(2.85,2.32),
    (2.95,2.45),(3.05,2.52),(3.15,2.63),(3.25,2.75),(3.35,2.85),(3.45,2.95),(3.55,3.05),(3.65,3.15),(3.75,3.28),
    (3.85,3.38),(3.95,3.48),(4.05,3.60),(4.15,3.68),(4.25,3.78),(2.98,2.75),(3.08,2.85),(3.18,2.97),(3.28,3.05),
    (3.38,3.16),(3.48,3.26),(3.58,3.36),(3.68,3.48),(3.78,3.58),(3.13,2.70),(3.23,2.81),(3.33,2.92),(3.43,3.03),
    (3.53,3.13),(3.63,3.24),(3.73,3.35),(3.03,2.58),(2.93,2.50),(2.83,2.38),
    (2.30,1.95),(2.20,2.10),(2.35,2.30),(2.50,2.50),(2.40,1.85),(2.55,1.95),(2.65,1.88),(2.75,2.05),(2.85,2.10),
    (2.95,2.20),(3.05,2.30),(3.15,2.40),(3.25,2.45),(3.35,2.60),(3.45,2.70),(3.55,2.80),(3.65,2.90),(3.75,3.00),
    (3.85,3.10),(3.95,3.20),(4.05,3.35),(4.15,3.45),(4.25,3.55),(4.35,3.70),(2.90,1.75),(3.00,1.95),(3.20,2.10),
    (3.40,2.25),(3.60,2.55),(3.80,2.70),(4.00,2.95),(4.10,3.10),(4.30,3.30),(4.40,3.80),(4.50,3.95),(4.55,4.15),
    (2.50,2.75),(2.70,2.85),(2.85,3.00),(3.00,3.12),(3.15,3.25),(3.30,3.38),(3.45,3.50),(3.60,3.65),(3.15,3.85),
    (3.35,3.90),(3.00,3.85),(2.75,3.92),(3.65,3.95),(4.00,4.05),(2.00,2.20),(1.95,3.40),(1.65,2.00),(1.60,1.95),
    (1.80,1.50),(2.15,1.55),(2.50,1.70),(2.70,1.45),(3.05,1.65),(3.30,1.60),(2.55,1.40),(2.85,1.45),(3.00,1.00),
    (2.95,0.95),(3.05,1.20),(2.65,1.10),(2.75,1.10),(3.45,1.15),(3.75,1.30),(3.60,1.50),(3.55,1.95),(4.00,2.05),
    (4.15,1.95),(3.25,0.70),(3.05,0.68),(2.20,2.40),(2.35,2.55),(3.85,2.25),(3.45,2.40),(3.20,1.88),(2.45,2.35),
    (2.60,2.60),(3.90,3.40),(4.20,3.60),
]

range_top = [-0.1, 0.4]
range_bot = [0.0, 4.71]
legend_labels = ["ext_flag>0", "ext_flag=0"]
x_titles = ["W1-W2 (Forced)", "W2-W3 (Forced)"]
y_titles = ["W1-W2 (Hybrid)", "W2-W3 (Hybrid)"]

# ---------------- STYLE ----------------
FONT = "DejaVu Sans"
W, H = 976, 1776
GREEN_FILL, GREEN_LINE = "rgba(0,128,0,0.30)", "rgba(0,128,0,0.50)"
BLUE_FILL, BLUE_LINE = "rgba(0,0,255,0.28)", "rgba(0,0,255,0.48)"

fig = go.Figure()

def add_panel(green, blue, xa, ya, legend_name):
    fig.add_trace(go.Scatter(
        x=[p[0] for p in green], y=[p[1] for p in green], mode="markers",
        marker=dict(size=6.5, color=GREEN_FILL, line=dict(color=GREEN_LINE, width=1.3)),
        xaxis=xa, yaxis=ya, showlegend=False, hoverinfo="skip"))
    fig.add_trace(go.Scatter(
        x=[p[0] for p in blue], y=[p[1] for p in blue], mode="markers",
        marker=dict(size=6.5, color=BLUE_FILL, line=dict(color=BLUE_LINE, width=1.3)),
        xaxis=xa, yaxis=ya, showlegend=False, hoverinfo="skip"))
    for lab, col in zip(legend_labels, ["green", "blue"]):
        fig.add_trace(go.Scatter(
            x=[None], y=[None], mode="markers", name=lab,
            marker=dict(size=16, color=col, line=dict(color=col, width=4)),
            xaxis=xa, yaxis=ya, legend=legend_name, showlegend=True))

add_panel(green_top, blue_top, "x", "y", "legend")
add_panel(green_bot, blue_bot, "x2", "y2", "legend2")

# 1:1 lines
fig.add_trace(go.Scatter(x=range_top, y=range_top, mode="lines",
                         line=dict(color="black", width=3), xaxis="x", yaxis="y",
                         showlegend=False, hoverinfo="skip"))
fig.add_trace(go.Scatter(x=range_bot, y=range_bot, mode="lines",
                         line=dict(color="black", width=3), xaxis="x2", yaxis="y2",
                         showlegend=False, hoverinfo="skip"))

xdom = [172 / W, 920 / W]
ydom_top = [1 - 778 / H, 1 - 38 / H]
ydom_bot = [1 - 1654 / H, 1 - 913 / H]

def axis_common(rng, dtick, mdtick, title, title_standoff, fmt):
    return dict(
        range=rng, dtick=dtick, tick0=0, tickformat=fmt, showgrid=False, zeroline=False,
        automargin=False,
        showline=True, linecolor="black", linewidth=4, mirror="allticks",
        ticks="inside", ticklen=13, tickwidth=3.5, tickcolor="black",
        tickfont=dict(family=FONT, size=40, color="black"),
        minor=dict(dtick=mdtick, tick0=0, ticks="inside", ticklen=7, tickwidth=2.5,
                   tickcolor="black", showgrid=False),
        title=dict(text=title, font=dict(family=FONT, size=39, color="black"),
                   standoff=title_standoff),
        fixedrange=True,
    )

legend_style = dict(xanchor="left", yanchor="top",
                    bgcolor="rgba(255,255,255,0.85)", bordercolor="#cccccc", borderwidth=2,
                    font=dict(family=FONT, size=32, color="black"), itemwidth=90,
                    tracegroupgap=0)

fig.update_layout(
    template="none",
    width=W, height=H, margin=dict(l=0, r=0, t=0, b=0, pad=0),
    paper_bgcolor="white", plot_bgcolor="white",
    font=dict(family=FONT, color="black"),
    xaxis=dict(domain=xdom, anchor="y", ticklabelstandoff=-14,
               **axis_common(range_top, 0.1, 0.02, x_titles[0], 12, ".1f")),
    yaxis=dict(domain=ydom_top, anchor="x", ticklabelstandoff=9,
               **axis_common(range_top, 0.1, 0.02, y_titles[0], 22, ".1f")),
    xaxis2=dict(domain=xdom, anchor="y2", ticklabelstandoff=-14,
                **axis_common(range_bot, 1, 0.2, x_titles[1], 12, "d")),
    yaxis2=dict(domain=ydom_bot, anchor="x2", ticklabelstandoff=9,
                **axis_common(range_bot, 1, 0.2, y_titles[1], 22, "d")),
    legend=dict(x=190 / W, y=1 - 61 / H, **legend_style),
    legend2=dict(x=190 / W, y=1 - 936 / H, **legend_style),
    showlegend=True,
)

fig.write_html("out.html")
